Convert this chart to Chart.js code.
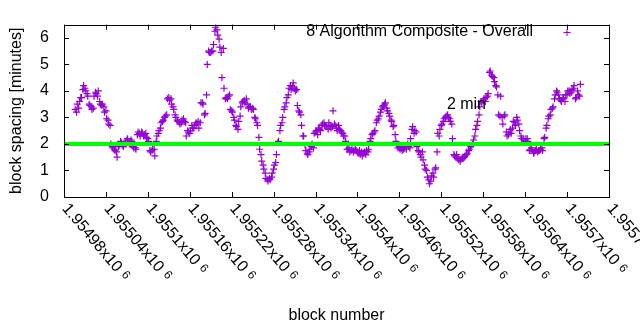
<!DOCTYPE html>
<html>
<head>
<meta charset="utf-8">
<script src="https://cdn.jsdelivr.net/npm/chart.js@4/dist/chart.umd.min.js"></script>
<style>
body { margin: 0; background: #fff; }
canvas { display: block; }
</style>
</head>
<body>
<canvas id="myChart" width="640" height="330"></canvas>
<script>
// block number / average block spacing (minutes)
const blocks = [
	1954996, 1954999, 1955002, 1955005, 1955008, 1955011, 1955014, 1955017, 1955020, 1955023,
	1955026, 1955029, 1955032, 1955035, 1955038, 1955041, 1955044, 1955047, 1955050, 1955053,
	1955056, 1955059, 1955062, 1955065, 1955068, 1955071, 1955074, 1955077, 1955080, 1955083,
	1955086, 1955089, 1955092, 1955095, 1955098, 1955101, 1955104, 1955107, 1955110, 1955113,
	1955116, 1955119, 1955122, 1955125, 1955128, 1955131, 1955134, 1955137, 1955140, 1955143,
	1955146, 1955149, 1955152, 1955155, 1955158, 1955161, 1955164, 1955167, 1955170, 1955173,
	1955176, 1955179, 1955182, 1955185, 1955188, 1955191, 1955194, 1955197, 1955200, 1955203,
	1955206, 1955209, 1955212, 1955215, 1955218, 1955221, 1955224, 1955227, 1955230, 1955233,
	1955236, 1955239, 1955242, 1955245, 1955248, 1955251, 1955254, 1955257, 1955260, 1955263,
	1955266, 1955269, 1955272, 1955275, 1955278, 1955281, 1955284, 1955287, 1955290, 1955293,
	1955296, 1955299, 1955302, 1955305, 1955308, 1955311, 1955314, 1955317, 1955320, 1955323,
	1955326, 1955329, 1955332, 1955335, 1955338, 1955341, 1955344, 1955347, 1955350, 1955353,
	1955356, 1955359, 1955362, 1955365, 1955368, 1955371, 1955374, 1955377, 1955380, 1955383,
	1955386, 1955389, 1955392, 1955395, 1955398, 1955401, 1955404, 1955407, 1955410, 1955413,
	1955416, 1955419, 1955422, 1955425, 1955428, 1955431, 1955434, 1955437, 1955440, 1955443,
	1955446, 1955449, 1955452, 1955455, 1955458, 1955461, 1955464, 1955467, 1955470, 1955473,
	1955476, 1955479, 1955482, 1955485, 1955488, 1955491, 1955494, 1955497, 1955500, 1955503,
	1955506, 1955509, 1955512, 1955515, 1955518, 1955521, 1955524, 1955527, 1955530, 1955533,
	1955536, 1955539, 1955542, 1955545, 1955548, 1955551, 1955554, 1955557, 1955560, 1955563,
	1955566, 1955569, 1955572, 1955575, 1955578, 1955581, 1955584, 1955587, 1955590, 1955593,
	1955596, 1955599, 1955602, 1955605, 1955608, 1955611, 1955614, 1955617, 1955620, 1955623,
	1955626, 1955629, 1955632, 1955635, 1955638, 1955641, 1955644, 1955647, 1955650, 1955653,
	1955656, 1955659, 1955662, 1955665, 1955668, 1955671, 1955674, 1955677, 1955680, 1955683,
	1955686, 1955689, 1955692, 1955695, 1955698, 1955701, 1955704, 1955707, 1955710, 1955713,
	1955716, 1955719,
	// in-between blocks
	1954998, 1955001, 1955004, 1955007, 1955010, 1955013, 1955016, 1955019, 1955022, 1955025,
	1955028, 1955031, 1955034, 1955037, 1955040, 1955043, 1955046, 1955049, 1955052, 1955055,
	1955058, 1955061, 1955064, 1955067, 1955070, 1955073, 1955076, 1955079, 1955082, 1955085,
	1955088, 1955091, 1955094, 1955097, 1955100, 1955103, 1955106, 1955109, 1955112, 1955115,
	1955118, 1955121, 1955124, 1955127, 1955130, 1955133, 1955136, 1955139, 1955142, 1955145,
	1955148, 1955151, 1955154, 1955157, 1955160, 1955163, 1955166, 1955169, 1955172, 1955175,
	1955178, 1955181, 1955184, 1955187, 1955190, 1955193, 1955196, 1955199, 1955202, 1955205,
	1955208, 1955211, 1955214, 1955217, 1955220, 1955223, 1955226, 1955229, 1955232, 1955235,
	1955238, 1955241, 1955244, 1955247, 1955250, 1955253, 1955256, 1955259, 1955262, 1955265,
	1955268, 1955271, 1955274, 1955277, 1955280, 1955283, 1955286, 1955289, 1955292, 1955295,
	1955298, 1955301, 1955304, 1955307, 1955310, 1955313, 1955316, 1955319, 1955322, 1955325,
	1955328, 1955331, 1955334, 1955337, 1955340, 1955343, 1955346, 1955349, 1955352, 1955355,
	1955358, 1955361, 1955364, 1955367, 1955370, 1955373, 1955376, 1955379, 1955382, 1955385,
	1955388, 1955391, 1955394, 1955397, 1955400, 1955403, 1955406, 1955409, 1955412, 1955415,
	1955418, 1955421, 1955424, 1955427, 1955430, 1955433, 1955436, 1955439, 1955442, 1955445,
	1955448, 1955451, 1955454, 1955457, 1955460, 1955463, 1955466, 1955469, 1955472, 1955475,
	1955478, 1955481, 1955484, 1955487, 1955490, 1955493, 1955496, 1955499, 1955502, 1955505,
	1955508, 1955511, 1955514, 1955517, 1955520, 1955523, 1955526, 1955529, 1955532, 1955535,
	1955538, 1955541, 1955544, 1955547, 1955550, 1955553, 1955556, 1955559, 1955562, 1955565,
	1955568, 1955571, 1955574, 1955577, 1955580, 1955583, 1955586, 1955589, 1955592, 1955595,
	1955598, 1955601, 1955604, 1955607, 1955610, 1955613, 1955616, 1955619, 1955622, 1955625,
	1955628, 1955631, 1955634, 1955637, 1955640, 1955643, 1955646, 1955649, 1955652, 1955655,
	1955658, 1955661, 1955664, 1955667, 1955670, 1955673, 1955676, 1955679, 1955682, 1955685,
	1955688, 1955691, 1955694, 1955697, 1955700, 1955703, 1955706, 1955709, 1955712, 1955715,
	1955718
]
const spacing = [
	3.3, 3.5, 3.6, 3.75, 4.2, 4.0, 3.8, 3.45, 3.3, 3.8,
	3.9, 4.0, 3.5, 3.5, 3.2, 2.95, 2.75, 2.0, 1.85, 1.75,
	1.5, 1.95, 2.05, 1.9, 2.05, 2.2, 2.0, 2.1, 1.85, 1.8,
	2.45, 2.3, 2.4, 2.35, 2.25, 2.1, 1.7, 1.8, 1.55, 2.3,
	2.5, 2.8, 2.9, 3.05, 3.7, 3.65, 3.5, 3.3, 3.0, 2.85,
	2.75, 2.9, 2.85, 2.3, 2.45, 2.5, 2.6, 2.7, 2.75, 2.6,
	3.55, 3.5, 3.15, 5.0, 5.45, 5.5, 5.75, 6.4, 6.1, 5.65,
	4.5, 4.1, 3.75, 3.8, 3.3, 3.2, 2.9, 2.65, 2.85, 3.4,
	3.6, 3.55, 3.5, 3.4, 3.3, 3.3, 2.95, 2.7, 1.8, 1.35,
	1.05, 0.7, 0.6, 0.65, 0.9, 1.2, 1.6, 2.1, 2.7, 3.0,
	3.4, 3.75, 4.1, 4.05, 4.3, 4.0, 3.45, 3.2, 2.7, 2.3,
	1.75, 1.6, 1.8, 2.0, 2.4, 2.5, 2.6, 2.5, 2.75, 2.7,
	2.65, 2.8, 2.6, 3.25, 2.7, 2.5, 2.55, 2.45, 2.3, 2.1,
	1.8, 1.7, 1.8, 1.75, 1.75, 1.65, 1.6, 1.55, 1.7, 1.75,
	1.8, 2.2, 2.4, 2.5, 2.9, 3.05, 3.3, 3.45, 3.55, 3.25,
	3.05, 2.85, 2.7, 2.1, 1.85, 1.8, 1.75, 1.85, 1.8, 1.9,
	2.2, 2.65, 2.5, 1.9, 1.7, 1.5, 1.4, 1.05, 0.75, 0.5,
	0.8, 0.75, 1.1, 2.4, 2.55, 2.75, 2.95, 3.05, 3.0, 2.85,
	2.2, 1.55, 1.6, 1.4, 1.4, 1.45, 1.55, 1.65, 1.8, 1.95,
	2.15, 2.55, 2.85, 3.4, 3.55, 3.7, 3.75, 3.9, 4.75, 4.55,
	4.35, 4.15, 3.1, 3.8, 2.75, 3.1, 2.3, 2.45, 2.4, 2.85,
	2.7, 2.9, 2.5, 2.2, 2.15, 2.2, 2.1, 1.8, 1.75, 1.7,
	1.8, 1.75, 1.8, 1.75, 2.25, 2.7, 3.05, 3.3, 3.4, 3.85,
	3.95, 3.7, 3.6, 3.7, 3.85, 4.0, 3.9, 4.05, 4.2, 3.75,
	3.85, 4.25,
	// in-between blocks
	3.2, 3.35, 3.75, 4.05, 4.1, 3.9, 3.5, 3.4, 3.35, 3.95,
	3.8, 3.6, 3.45, 3.4, 3.25, 2.9, 2.7, 1.9, 1.8, 1.7,
	1.9, 2.1, 1.95, 2.0, 2.15, 2.05, 2.15, 1.9, 1.85, 2.35,
	2.4, 2.45, 2.3, 2.4, 2.2, 1.75, 1.75, 1.8, 2.1, 2.4,
	2.6, 2.85, 3.0, 3.1, 3.75, 3.7, 3.4, 3.1, 2.9, 2.8,
	2.8, 2.95, 2.8, 2.5, 2.4, 2.7, 2.6, 2.8, 2.85, 2.8,
	3.55, 3.1, 3.85, 5.5, 5.45, 5.5, 6.25, 6.3, 5.95, 5.45,
	5.6, 3.7, 3.7, 3.85, 3.25, 3.0, 2.7, 2.55, 3.05, 3.55,
	3.65, 3.7, 3.35, 3.4, 3.35, 3.0, 2.8, 2.25, 1.6, 1.2,
	0.9, 0.65, 0.7, 0.75, 1.05, 1.3, 2.05, 2.5, 2.8, 3.3,
	3.55, 3.85, 4.2, 4.15, 4.1, 4.05, 3.25, 3.1, 2.3, 1.95,
	1.65, 1.7, 1.9, 1.85, 2.45, 2.35, 2.55, 2.7, 2.8, 2.7,
	2.55, 2.7, 2.65, 2.75, 2.6, 2.7, 2.5, 2.4, 2.3, 1.8,
	1.85, 1.75, 1.7, 1.8, 1.7, 1.75, 1.7, 1.65, 1.6, 1.7,
	2.1, 2.35, 2.45, 2.8, 2.95, 3.2, 3.4, 3.5, 3.35, 3.15,
	2.9, 2.65, 2.35, 1.95, 1.9, 1.85, 1.8, 1.9, 2.0, 1.85,
	2.55, 2.4, 2.45, 1.75, 1.6, 1.7, 1.2, 1.0, 0.65, 0.6,
	0.9, 1.05, 1.7, 2.3, 2.7, 2.85, 3.0, 3.1, 2.95, 2.75,
	1.6, 1.5, 1.45, 1.35, 1.5, 1.5, 1.6, 1.75, 1.9, 2.0,
	2.3, 2.7, 3.1, 3.6, 3.65, 3.6, 3.8, 4.7, 4.6, 4.5,
	4.2, 3.85, 3.05, 3.0, 3.05, 2.45, 2.35, 2.55, 2.6, 2.8,
	3.0, 2.75, 2.3, 2.2, 2.1, 2.2, 1.75, 1.85, 1.65, 1.75,
	1.7, 1.75, 1.85, 2.2, 2.6, 2.95, 3.1, 3.35, 3.7, 4.0,
	3.85, 3.65, 3.75, 3.6, 3.85, 4.0, 3.95, 4.1, 3.7, 4.0,
	3.8
]

const seriesName = '8 Algorithm Composite - Overall'
const xMin = 1954980
const xMax = 1955760
const xStep = 60
const yMin = 0
const yMax = 6.5
const target = 2
const targetLabel = '2 min'
const targetLabelAt = [1955528, 3.5]

const fontFamily = '"Liberation Sans", Arial, sans-serif'
Chart.defaults.color = '#000'
Chart.defaults.font.family = fontFamily
Chart.defaults.font.size = 16

const points = blocks.map((b, i) => ({ x: b, y: spacing[i] }))

// gnuplot style frame, inward tics, rotated x labels, key and label
const gnuplotStyle = {
	id: 'gnuplotStyle',
	afterDraw(chart) {
		const ctx = chart.ctx
		const a = chart.chartArea
		const xs = chart.scales.x
		const ys = chart.scales.y
		const tic = 5
		ctx.save()
		ctx.strokeStyle = '#000'
		ctx.lineWidth = 1
		ctx.beginPath()
		xs.ticks.forEach(t => {
			const x = Math.round(xs.getPixelForValue(t.value)) + 0.5
			ctx.moveTo(x, a.bottom)
			ctx.lineTo(x, a.bottom - tic)
			ctx.moveTo(x, a.top)
			ctx.lineTo(x, a.top + tic)
		})
		ys.ticks.forEach(t => {
			const y = Math.round(ys.getPixelForValue(t.value)) + 0.5
			ctx.moveTo(a.left, y)
			ctx.lineTo(a.left + tic, y)
			ctx.moveTo(a.right, y)
			ctx.lineTo(a.right - tic, y)
		})
		ctx.stroke()
		ctx.strokeRect(Math.round(a.left) + 0.5, Math.round(a.top) + 0.5,
			Math.round(a.right - a.left), Math.round(a.bottom - a.top))

		ctx.fillStyle = '#000'
		ctx.textAlign = 'left'
		ctx.textBaseline = 'middle'
		xs.ticks.forEach(t => {
			const x = xs.getPixelForValue(t.value)
			ctx.save()
			ctx.translate(x + 1, a.bottom + 9)
			ctx.rotate(50 * Math.PI / 180)
			ctx.font = '16px ' + fontFamily
			ctx.fillText(t.label, 0, 0)
			const w = ctx.measureText(t.label).width
			ctx.font = '12px ' + fontFamily
			ctx.fillText('6', w + 5, -2)
			ctx.restore()
		})

		// key
		ctx.font = '16px ' + fontFamily
		ctx.textAlign = 'right'
		ctx.fillText(seriesName, 533, 32)
		ctx.strokeStyle = '#9400d3'
		ctx.beginPath()
		ctx.moveTo(563.5, 32.5)
		ctx.lineTo(570.5, 32.5)
		ctx.moveTo(567, 29)
		ctx.lineTo(567, 36)
		ctx.stroke()

		ctx.textAlign = 'left'
		ctx.fillText(targetLabel, xs.getPixelForValue(targetLabelAt[0]), ys.getPixelForValue(targetLabelAt[1]))
		ctx.restore()
	}
}

const ctx = document.getElementById('myChart')
var chart = new Chart(ctx, {
	type: 'scatter',
	data: {
		datasets: [{
			type: 'line',
			label: targetLabel,
			data: [{ x: xMin, y: target }, { x: xMax, y: target }],
			borderColor: '#00ff00',
			borderWidth: 4,
			pointRadius: 0,
			fill: false,
		}, {
			label: seriesName,
			data: points,
			pointStyle: 'cross',
			pointRadius: 3.5,
			borderColor: '#9400d3',
			backgroundColor: '#9400d3',
			borderWidth: 1.2,
		}]
	},
	options: {
		responsive: false,
		animation: false,
		devicePixelRatio: 1,
		layout: { padding: { top: 19, right: 31, left: 0, bottom: 0 } },
		plugins: {
			legend: { display: false },
			tooltip: { enabled: false },
		},
		scales: {
			x: {
				type: 'linear',
				min: xMin,
				max: xMax,
				afterFit: scale => { scale.height = 133 },
				grid: { display: false },
				border: { display: false },
				ticks: {
					display: false,
					stepSize: xStep,
					autoSkip: false,
					includeBounds: false,
					callback: v => String(parseFloat((v / 1e6).toFixed(5))) + 'x10',
				},
				title: {
					display: true,
					text: 'block number',
					padding: { top: 0, bottom: 5 },
				},
			},
			y: {
				min: yMin,
				max: yMax,
				afterFit: scale => { scale.width = 64 },
				grid: { display: false, drawTicks: false },
				border: { display: false },
				ticks: {
					stepSize: 1,
					includeBounds: false,
					padding: 15,
				},
				title: {
					display: true,
					text: 'block spacing [minutes]',
					padding: { top: 7, bottom: 0 },
				},
			},
		},
	},
	plugins: [gnuplotStyle],
})
</script>
</body>
</html>
